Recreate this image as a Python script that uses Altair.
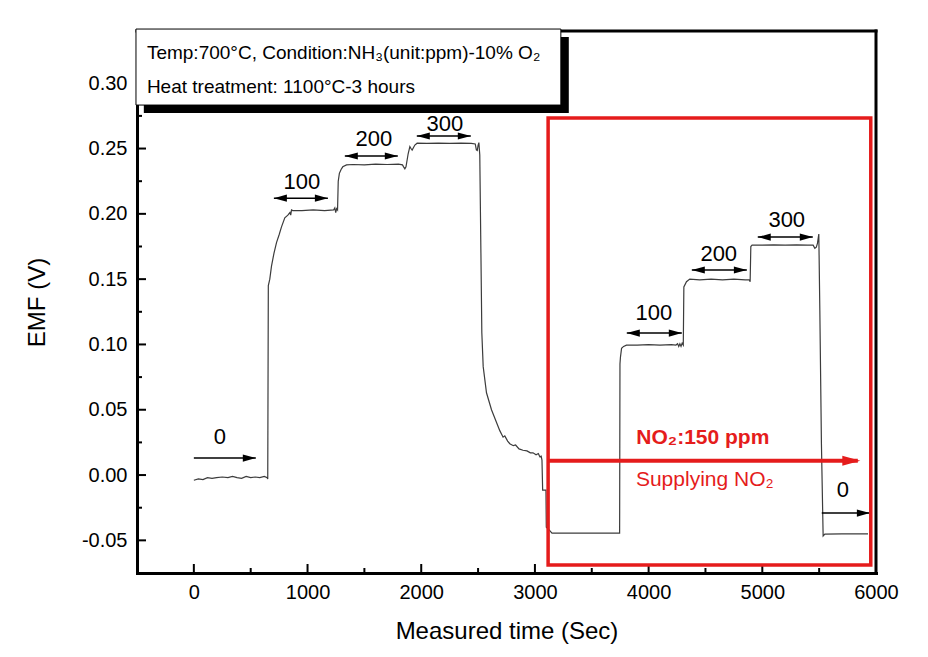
import altair as alt
import pandas as pd

# ---------------- data ----------------
# measured EMF trace (time in s, EMF in V)
TIME = [0, 40, 80, 120, 160, 200, 250, 300, 340, 380, 420, 460, 500, 540, 580, 620, 645,
        650, 655, 668, 683, 705, 727, 750, 771, 800, 827, 845, 852, 859, 870,
        950, 1050, 1150, 1230, 1240, 1248, 1256,
        1264, 1270, 1280, 1295, 1310, 1343, 1400, 1500, 1600, 1700, 1800, 1835,
        1845, 1856, 1866, 1885, 1900, 1910, 1920, 1944, 1964, 2050, 2150, 2250, 2350, 2440,
        2475, 2485, 2493, 2500, 2507,
        2515, 2525, 2533, 2545, 2574, 2618, 2691, 2720, 2735, 2760, 2779, 2810, 2830, 2860,
        2895, 2930, 2960, 2983, 3010, 3030, 3043, 3055, 3062,
        3068, 3097, 3100, 3125, 3150, 3400, 3600, 3745,
        3748, 3752, 3762, 3780, 3805, 3900, 4000, 4100, 4200, 4240, 4255, 4265, 4275, 4285, 4295, 4305,
        4310, 4333, 4362, 4450, 4550, 4650, 4750, 4850, 4884, 4893,
        4899, 4910, 5000, 5100, 5200, 5300, 5400, 5447, 5462, 5475, 5485, 5497,
        5506, 5520, 5535, 5550, 5700, 5930]
EMF = [-0.004, -0.003, -0.0035, -0.002, -0.0025, -0.002, -0.0015, -0.002, -0.001, -0.002, -0.0025, -0.001, -0.002, -0.0015, -0.002, -0.001, -0.002,
       -0.003, 0.145, 0.150, 0.160, 0.170, 0.178, 0.184, 0.190, 0.197, 0.199, 0.201, 0.199, 0.203, 0.2025,
       0.2025, 0.203, 0.2025, 0.203, 0.2045, 0.201, 0.204,
       0.203, 0.225, 0.231, 0.234, 0.236, 0.2375, 0.2378, 0.2375, 0.238, 0.2378, 0.238, 0.2375,
       0.236, 0.2345, 0.236, 0.246, 0.2515, 0.250, 0.2488, 0.2527, 0.2541, 0.254, 0.2542, 0.254, 0.2542, 0.254,
       0.2535, 0.249, 0.2485, 0.2525, 0.2545,
       0.245, 0.170, 0.109, 0.083, 0.063, 0.050, 0.034, 0.029, 0.030, 0.026, 0.024, 0.0225, 0.023, 0.020,
       0.019, 0.0185, 0.017, 0.017, 0.0155, 0.0165, 0.014, 0.0145, 0.0115,
       -0.0115, -0.0115, -0.040, -0.042, -0.0445, -0.0445, -0.0445, -0.0445,
       0.085, 0.090, 0.097, 0.0985, 0.0995, 0.0995, 0.0998, 0.0995, 0.0998, 0.0995, 0.1005, 0.0985, 0.1005, 0.0985, 0.101, 0.0995,
       0.144, 0.148, 0.150, 0.1495, 0.150, 0.1495, 0.150, 0.1495, 0.1495, 0.148,
       0.175, 0.176, 0.176, 0.1762, 0.176, 0.1762, 0.176, 0.176, 0.1736, 0.1745, 0.1774, 0.1845,
       0.126, 0.024, -0.0467, -0.0452, -0.045, -0.045]

X_TICKS = [0, 1000, 2000, 3000, 4000, 5000, 6000]
X_MINOR = [500, 1500, 2500, 3500, 4500, 5500]
Y_TICKS = [-0.05, 0.00, 0.05, 0.10, 0.15, 0.20, 0.25, 0.30]
Y_MINOR = [-0.025, 0.025, 0.075, 0.125, 0.175, 0.225, 0.275]

# concentration step annotations (ppm labels)
STEP_LABELS = ["0", "100", "200", "300", "100", "200", "300", "0"]
STEP_START = [0, 704, 1328, 1961, 3808, 4380, 4960, 5523]
STEP_END = [545, 1179, 1794, 2436, 4292, 4864, 5444, 5946]
STEP_LEVEL = [0.013, 0.212, 0.2443, 0.2596, 0.1087, 0.157, 0.1822, -0.0291]
STEP_DOUBLE = [False, True, True, True, True, True, True, False]
STEP_TEXT_T = [229, 950, 1583, 2208, 4046, 4617, 5215, 5708]
STEP_TEXT_V = [0.029, 0.2243, 0.2573, 0.2688, 0.124, 0.1692, 0.1953, -0.0115]

LEGEND_LINES = ["Temp:700°C, Condition:NH₃(unit:ppm)-10% O₂", "Heat treatment: 1100°C-3 hours"]
NO2_TITLE = "NO₂:150 ppm"
NO2_SUB = "Supplying NO₂"

X_DOMAIN = [-500, 6000]
Y_DOMAIN = [-0.075, 0.34]

# ---------------- layout ----------------
W, H = 739, 542
XS = W / (X_DOMAIN[1] - X_DOMAIN[0])
YS = H / (Y_DOMAIN[1] - Y_DOMAIN[0])
FONT = "Liberation Sans, Arial, sans-serif"
RED = "#e51c1c"
INK = "#000000"

x_axis = alt.Axis(values=X_TICKS, format="d", ticks=False, grid=False, labelFlush=False,
                  domainColor=INK, domainWidth=3, domainCap="square",
                  labelFont=FONT, labelFontSize=20, labelColor=INK, labelPadding=9,
                  title="Measured time (Sec)", titleFont=FONT, titleFontSize=24,
                  titleFontWeight="normal", titleColor=INK, titlePadding=17)
y_axis = alt.Axis(values=Y_TICKS, ticks=False, grid=False, labelFlush=False,
                  labelExpr="replace(format(datum.value, '.2f'), '\u2212', '-')",
                  domainColor=INK, domainWidth=3, domainCap="square",
                  labelFont=FONT, labelFontSize=20, labelColor=INK, labelPadding=10,
                  title="EMF (V)", titleFont=FONT, titleFontSize=24,
                  titleFontWeight="normal", titleColor=INK, titlePadding=32)
xsc = alt.Scale(domain=X_DOMAIN, nice=False, zero=False)
ysc = alt.Scale(domain=Y_DOMAIN, nice=False, zero=False)


def X(f="t"):
    return alt.X(f"{f}:Q", scale=xsc, axis=x_axis)


def Y(f="v"):
    return alt.Y(f"{f}:Q", scale=ysc, axis=y_axis)


# frame (top & right) and inward ticks
top_df = pd.DataFrame({"t": [X_DOMAIN[0]], "t2": [X_DOMAIN[1]], "v": [Y_DOMAIN[1]]})
right_df = pd.DataFrame({"t": [X_DOMAIN[1]], "v": [Y_DOMAIN[0]], "v2": [Y_DOMAIN[1]]})
frame_top = alt.Chart(top_df).mark_rule(color=INK, strokeWidth=3, strokeCap="square").encode(
    x=X(), x2="t2:Q", y=Y())
frame_right = alt.Chart(right_df).mark_rule(color=INK, strokeWidth=3, strokeCap="square").encode(
    x=X(), y=Y(), y2="v2:Q")

xt = pd.DataFrame({
    "t": X_TICKS + X_MINOR,
    "v": [Y_DOMAIN[0]] * (len(X_TICKS) + len(X_MINOR)),
    "v2": [Y_DOMAIN[0] + 9 / YS] * len(X_TICKS) + [Y_DOMAIN[0] + 5 / YS] * len(X_MINOR),
})
yt = pd.DataFrame({
    "v": Y_TICKS + Y_MINOR,
    "t": [X_DOMAIN[0]] * (len(Y_TICKS) + len(Y_MINOR)),
    "t2": [X_DOMAIN[0] + 9 / XS] * len(Y_TICKS) + [X_DOMAIN[0] + 5 / XS] * len(Y_MINOR),
})
xticks = alt.Chart(xt).mark_rule(color=INK, strokeWidth=2).encode(x=X(), y=Y(), y2="v2:Q")
yticks = alt.Chart(yt).mark_rule(color=INK, strokeWidth=2).encode(x=X(), x2="t2:Q", y=Y())

# curve
curve_df = pd.DataFrame({"t": TIME, "v": EMF})
curve = alt.Chart(curve_df).mark_line(color="#3c3c3c", strokeWidth=1.2).encode(
    x=X(), y=Y(), order="t:Q")

# step arrows
arr_df = pd.DataFrame({"t": STEP_START, "t2": STEP_END, "v": STEP_LEVEL})
arr_lines = alt.Chart(arr_df).mark_rule(color=INK, strokeWidth=1.5).encode(x=X(), x2="t2:Q", y=Y())
right_heads = pd.DataFrame({"t": STEP_END, "v": STEP_LEVEL})
left_heads = pd.DataFrame({"t": [s for s, d in zip(STEP_START, STEP_DOUBLE) if d],
                           "v": [l for l, d in zip(STEP_LEVEL, STEP_DOUBLE) if d]})
head_r = alt.Chart(right_heads).mark_point(shape="M0,0 L-2,-0.55 L-2,0.55 Z", filled=True,
                                           size=169, color=INK, opacity=1).encode(x=X(), y=Y())
head_l = alt.Chart(left_heads).mark_point(shape="M0,0 L2,-0.55 L2,0.55 Z", filled=True,
                                          size=169, color=INK, opacity=1).encode(x=X(), y=Y())
step_txt_df = pd.DataFrame({"t": STEP_TEXT_T, "v": STEP_TEXT_V, "label": STEP_LABELS})
step_txt = alt.Chart(step_txt_df).mark_text(font=FONT, fontSize=22, color=INK,
                                            baseline="middle", align="center").encode(
    x=X(), y=Y(), text="label:N")

# red box, arrow and texts
red_box_df = pd.DataFrame({"t": [3116], "t2": [5954], "v": [0.2734], "v2": [-0.0689]})
red_box = alt.Chart(red_box_df).mark_rect(fillOpacity=0, stroke=RED, strokeWidth=3.5).encode(
    x=X(), x2="t2:Q", y=Y(), y2="v2:Q")
red_arr_df = pd.DataFrame({"t": [3116], "t2": [5840], "v": [0.011]})
red_arr = alt.Chart(red_arr_df).mark_rule(color=RED, strokeWidth=4).encode(x=X(), x2="t2:Q", y=Y())
red_head = alt.Chart(pd.DataFrame({"t": [5862], "v": [0.011]})).mark_point(
    shape="M0,0 L-2,-0.55 L-2,0.55 Z", filled=True, size=324, color=RED, opacity=1).encode(x=X(), y=Y())
red_t1 = alt.Chart(pd.DataFrame({"t": [4477], "v": [0.0283], "label": [NO2_TITLE]})).mark_text(
    font=FONT, fontSize=21, fontWeight="bold", color=RED, baseline="middle", align="center").encode(
    x=X(), y=Y(), text="label:N")
red_t2 = alt.Chart(pd.DataFrame({"t": [4494], "v": [-0.0038], "label": [NO2_SUB]})).mark_text(
    font=FONT, fontSize=21, color=RED, baseline="middle", align="center").encode(
    x=X(), y=Y(), text="label:N")

# legend box with shadow
shadow = alt.Chart(pd.DataFrame({"t": [-440], "t2": [3298], "v": [0.3354], "v2": [0.2772]})).mark_rect(
    color=INK).encode(x=X(), x2="t2:Q", y=Y(), y2="v2:Q")
box = alt.Chart(pd.DataFrame({"t": [-509], "t2": [3228], "v": [0.3415], "v2": [0.2833]})).mark_rect(
    fill="white", stroke=INK, strokeWidth=1).encode(x=X(), x2="t2:Q", y=Y(), y2="v2:Q")
leg_txt = alt.Chart(pd.DataFrame({"t": [-413, -413], "v": [0.3185, 0.2925], "label": LEGEND_LINES})).mark_text(
    font=FONT, fontSize=19, color=INK, baseline="alphabetic", align="left").encode(
    x=X(), y=Y(), text="label:N")

chart = alt.layer(
    frame_top, frame_right, xticks, yticks, curve,
    arr_lines, head_r, head_l, step_txt,
    red_box, red_arr, red_head, red_t1, red_t2,
    shadow, box, leg_txt,
).properties(
    width=W, height=H,
    padding={"left": 129, "top": 23, "right": 44, "bottom": 76},
    autosize=alt.AutoSizeParams(type="none"),
    background="white",
).configure_view(stroke="transparent")

chart.save("out.html", embed_options={"renderer": "svg", "actions": False})
